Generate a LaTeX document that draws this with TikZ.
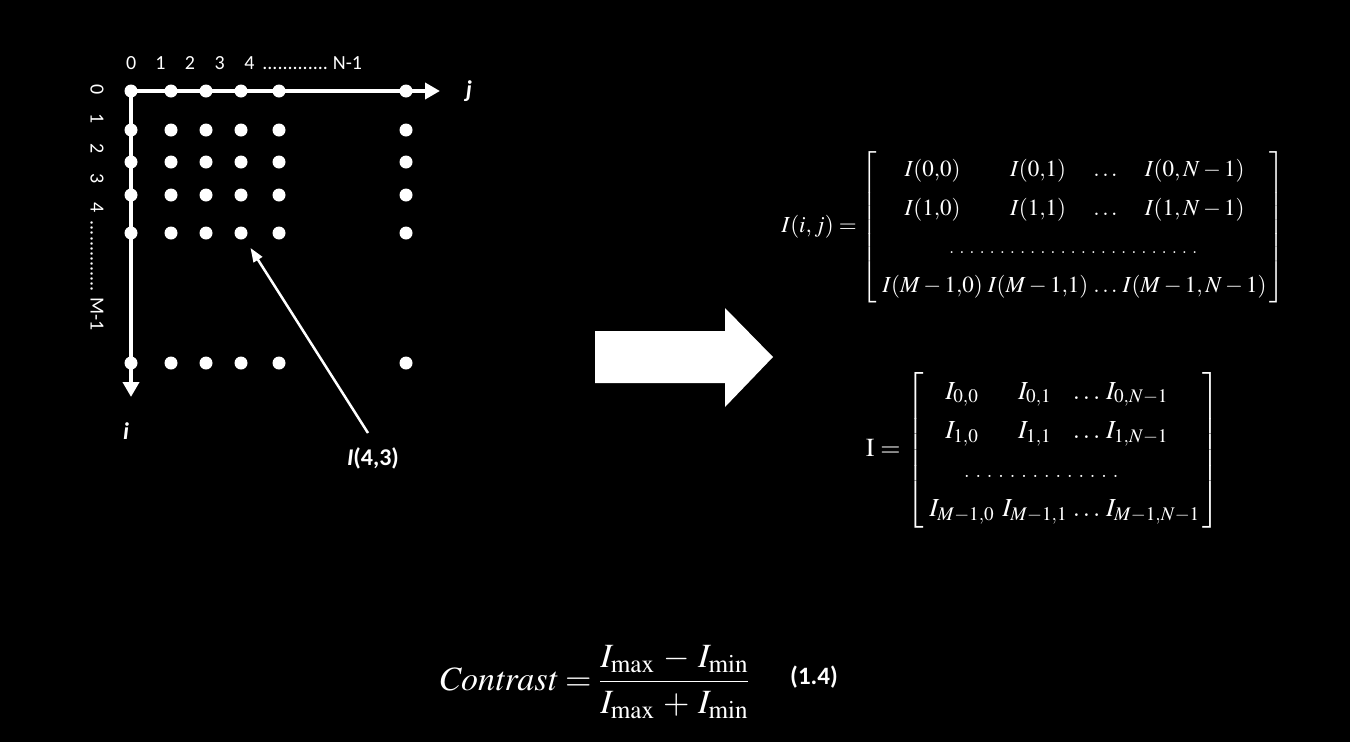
\documentclass[tikz,border=0pt]{standalone}
\usepackage{amsmath}
\usepackage{mathptmx}
\usepackage[no-math]{fontspec}
\newfontfamily\calibri{Carlito}
\usetikzlibrary{arrows.meta}
\renewcommand{\arraystretch}{1.4}

\begin{document}
\begin{tikzpicture}[x=1pt, y=-1pt,
  axis/.style={white, line width=4pt, -{Triangle[length=15pt,width=16pt]}},
  dot/.style={circle, fill=white, inner sep=0pt, minimum size=13pt},
  lbl/.style={white, inner sep=0pt, font=\calibri\fontsize{20}{24}\selectfont},
  axlbl/.style={white, inner sep=0pt, font=\calibri\bfseries\itshape\fontsize{24}{28}\selectfont},
  eqn/.style={white, inner sep=0pt, font=\fontsize{23}{27}\selectfont},
  ptr/.style={white, line width=2.5pt, -{Triangle[length=14pt,width=10pt]}}]
  \fill[black] (0,0) rectangle (1350,742);
  \useasboundingbox (0,0) rectangle (1350,742);

  % pixel grid with its two axes
  \coordinate (org) at (131,91);
  \coordinate (jend) at (440,91);
  \coordinate (iend) at (131,397);
  \draw[axis] (org) -- (jend);
  \draw[axis] (org) -- (iend);
  \foreach \r/\y in {0/91,1/130,2/162,3/195,4/233,M/363} {
    \foreach \c/\x in {0/131,1/171,2/206,3/241,4/279,N/406} {
      \node[dot] (d\r\c) at (\x,\y) {};
    }
  }
  \node[lbl, anchor=west] (jnums) at (126,63)
    {0\hspace{19pt}1\hspace{19.5pt}2\hspace{19.5pt}3\hspace{19.5pt}4\hspace{8pt}.............\hspace{5pt}N-1};
  \node[lbl, anchor=west, rotate=-90] (inums) at (97,84)
    {0\hspace{19.5pt}1\hspace{19.5pt}2\hspace{19.5pt}3\hspace{19.5pt}4\hspace{8pt}..............\hspace{6pt}M-1};
  \node[axlbl] (jlbl) at (469,91) {j};
  \node[axlbl] (ilbl) at (126,431) {i};

  % pointer to one pixel
  \node[lbl, font=\calibri\bfseries\fontsize{24}{28}\selectfont] (plbl) at (373,458) {\itshape I\upshape(4,3)};
  \coordinate (ptrtail) at (368,433);
  \draw[ptr, shorten >=11pt] (ptrtail) -- (d43);

  % block arrow
  \fill[white] (595,331) -- (725,331) -- (725,308) -- (773,357) -- (725,407)
    -- (725,383) -- (595,383) -- cycle;

  % matrix forms
  \node[eqn, font=\fontsize{23}{27.5}\selectfont] (matA) at (1033,227)
    {$I(i,j)=\left[\begin{array}{@{\;}c@{\;}c@{\;}c@{\;}c@{\,}}
      I(0{,}0) & I(0{,}1) & \ldots & I(0,N-1)\\
      I(1{,}0) & I(1{,}1) & \ldots & I(1,N-1)\\
      \multicolumn{4}{c}{\makebox[255pt]{\dotfill}}\\
      I(M-1{,}0) & I(M-1{,}1) & \ldots & I(M-1,N-1)
    \end{array}\right]$};
  \node[eqn, font=\fontsize{26}{28}\selectfont] (matB) at (1043,450)
    {$\mathrm{I}=\left[\begin{array}{@{\;}c@{\hspace{8pt}}c@{\;}c@{\;}l@{\,}}
      I_{0{,}0} & I_{0{,}1} & \ldots & I_{0,N-1}\\
      I_{1{,}0} & I_{1{,}1} & \ldots & I_{1,N-1}\\
      \multicolumn{4}{l}{\hspace{30pt}\makebox[165pt]{\dotfill}}\\
      I_{M-1{,}0} & I_{M-1{,}1} & \ldots & I_{M-1,N-1}
    \end{array}\right]$};

  % contrast
  \node[eqn, font=\fontsize{34}{40}\selectfont] (contr) at (594,682)
    {$\displaystyle \mathit{Contrast}=\frac{I_{\max}\,-\,I_{\min}}{I_{\max}\,+\,I_{\min}}$};
  \node[lbl, font=\calibri\bfseries\fontsize{25}{30}\selectfont] (eqno) at (814,677) {(1.4)};
\end{tikzpicture}
\end{document}
